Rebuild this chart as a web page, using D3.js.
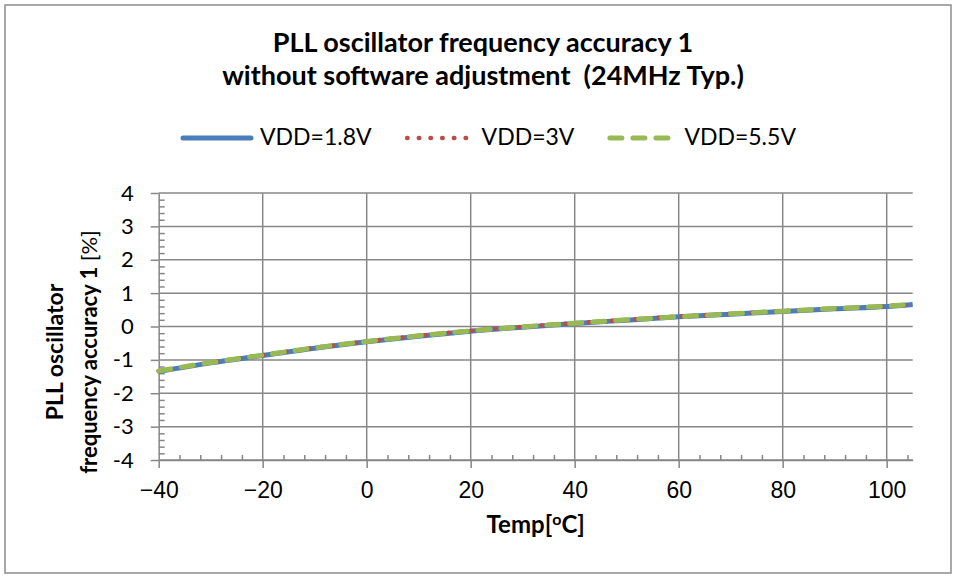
<!DOCTYPE html>
<html>
<head>
<meta charset="utf-8">
<script src="https://cdn.jsdelivr.net/npm/d3@7"></script>
<style>
  body { margin: 0; background: #fff; }
  svg { display: block; }
</style>
</head>
<body>
<svg id="chart"></svg>
<script>
// temperatures
const temps = [-40, -30, -20, -10, 0, 10, 20, 30, 40, 50, 60, 70, 80, 90, 100, 105];
// frequency accuracy [%] per supply voltage
const vdd18 = [-1.35, -1.09, -0.87, -0.65, -0.46, -0.29, -0.14, -0.02, 0.09, 0.19, 0.29, 0.37, 0.45, 0.53, 0.60, 0.66];
const vdd3  = [-1.34, -1.08, -0.86, -0.64, -0.45, -0.28, -0.13, -0.01, 0.10, 0.20, 0.30, 0.38, 0.46, 0.53, 0.61, 0.66];
const vdd55 = [-1.33, -1.08, -0.86, -0.64, -0.45, -0.28, -0.13, -0.01, 0.10, 0.20, 0.29, 0.38, 0.46, 0.54, 0.61, 0.67];
const seriesNames = ["VDD=1.8V", "VDD=3V", "VDD=5.5V"];
const xTicks = [-40, -20, 0, 20, 40, 60, 80, 100];
const yTicks = [-4, -3, -2, -1, 0, 1, 2, 3, 4];

const width = 955, height = 576;
const gridColor = "#878787";
const calibri = "Lato, 'Open Sans', sans-serif";

const svg = d3.select("#chart").attr("width", width).attr("height", height);

// chart frame
svg.append("rect")
    .attr("x", 5).attr("y", 5)
    .attr("width", 946).attr("height", 568)
    .attr("fill", "#fff")
    .attr("stroke", "#8c8c8c")
    .attr("stroke-width", 1.5);

const x = d3.scaleLinear().domain([-40, 105]).range([158.7, 912.7]);
const y = d3.scaleLinear().domain([-4, 4]).range([460, 193]);

// gridlines
const grid = svg.append("g").attr("class", "grid")
    .attr("stroke", gridColor).attr("stroke-width", 1.5);
grid.selectAll("line.h")
    .data(yTicks)
    .join("line")
    .attr("class", "h")
    .attr("x1", x(-40)).attr("x2", x(105))
    .attr("y1", d => y(d)).attr("y2", d => y(d));
grid.selectAll("line.v")
    .data(xTicks.filter(d => d !== -40))
    .join("line")
    .attr("class", "v")
    .attr("x1", d => x(d)).attr("x2", d => x(d))
    .attr("y1", y(-4)).attr("y2", y(4));

// minor ticks, inside the plot
const yMinor = d3.range(-40, 41, 2).map(d => d / 10).filter(d => !Number.isInteger(d));
const xMinor = d3.range(-40, 105, 4).filter(d => d % 20 !== 0);

svg.append("g")
    .attr("transform", `translate(${x(-40)},0)`)
    .call(d3.axisRight(y).tickValues(yMinor).tickSize(6).tickSizeOuter(0).tickFormat(""))
    .call(g => g.select(".domain").remove());

svg.append("g")
    .attr("transform", `translate(0,${y(-4)})`)
    .call(d3.axisTop(x).tickValues(xMinor).tickSize(5).tickSizeOuter(0).tickFormat(""))
    .call(g => g.select(".domain").remove());

// main axes
const yAxis = svg.append("g")
    .attr("transform", `translate(${x(-40)},0)`)
    .call(d3.axisLeft(y).tickValues(yTicks).tickSize(8).tickSizeOuter(0).tickPadding(17)
        .tickFormat(d => String(d)));
yAxis.selectAll("text")
    .attr("font-family", calibri)
    .attr("font-size", 22)
    .attr("fill", "#000");

const xAxis = svg.append("g")
    .attr("transform", `translate(0,${y(-4)})`)
    .call(d3.axisBottom(x).tickValues(xTicks).tickSize(8).tickSizeOuter(0).tickPadding(14));
xAxis.selectAll("text")
    .attr("font-family", "'Liberation Sans', Arial, sans-serif")
    .attr("font-size", 23)
    .attr("fill", "#000");

svg.selectAll(".tick line, .domain")
    .attr("stroke", gridColor)
    .attr("stroke-width", 1.5);

// series
const styles = [
    { color: "#4a7ebb", width: 5, dash: null, cap: "butt" },
    { color: "#be4b48", width: 4.5, dash: "0.5,11.2", cap: "round" },
    { color: "#98b954", width: 5, dash: "12,11", cap: "round" }
];
const series = [vdd18, vdd3, vdd55].map((vals, i) => ({
    name: seriesNames[i],
    style: styles[i],
    points: temps.map((t, j) => ({ t: t, v: vals[j] }))
}));

const line = d3.line()
    .x(d => x(d.t))
    .y(d => y(d.v))
    .curve(d3.curveMonotoneX);

svg.append("g").attr("class", "series")
    .selectAll("path")
    .data(series)
    .join("path")
    .attr("d", d => line(d.points))
    .attr("fill", "none")
    .attr("stroke", d => d.style.color)
    .attr("stroke-width", d => d.style.width)
    .attr("stroke-dasharray", d => d.style.dash)
    .attr("stroke-linecap", d => d.style.cap);

// title
const title = svg.append("text")
    .attr("font-family", calibri)
    .attr("font-weight", "bold")
    .attr("font-size", 27)
    .attr("text-anchor", "middle")
    .attr("fill", "#000");
title.append("tspan").attr("x", 483).attr("y", 52).text("PLL oscillator frequency accuracy 1");
title.append("tspan").attr("x", 483).attr("y", 85)
    .text("without software adjustment\u00a0\u00a0(24MHz Typ.)");

// legend
const legend = svg.append("g").attr("class", "legend");
let lx = 183;
series.forEach(s => {
    legend.append("line")
        .attr("x1", lx + (s.style.cap === "round" ? 2.5 : 0))
        .attr("x2", lx + 68)
        .attr("y1", 138).attr("y2", 138)
        .attr("stroke", s.style.color)
        .attr("stroke-width", s.style.width)
        .attr("stroke-dasharray", s.style.dash)
        .attr("stroke-linecap", s.style.cap === "butt" ? "round" : s.style.cap);
    const t = legend.append("text")
        .attr("x", lx + 77)
        .attr("y", 145)
        .attr("font-family", calibri)
        .attr("font-size", 23)
        .attr("fill", "#000")
        .text(s.name);
    lx += 77 + t.node().getComputedTextLength() + 33;
});

// axis titles
const xt = svg.append("text")
    .attr("x", (x(-40) + x(105)) / 2)
    .attr("y", 533)
    .attr("text-anchor", "middle")
    .attr("font-family", calibri)
    .attr("font-weight", "bold")
    .attr("font-size", 24)
    .attr("fill", "#000");
xt.append("tspan").text("Temp[");
xt.append("tspan").attr("font-size", 16).attr("dy", -8).text("o");
xt.append("tspan").attr("dy", 8).text("C]");

const yt = svg.append("text")
    .attr("transform", "translate(0,352) rotate(-90)")
    .attr("text-anchor", "middle")
    .attr("font-family", calibri)
    .attr("fill", "#000");
yt.append("tspan").attr("x", 0).attr("y", 63).attr("font-size", 23)
    .attr("font-weight", "bold").text("PLL oscillator");
yt.append("tspan").attr("x", 0).attr("y", 97).attr("font-size", 22)
    .attr("font-weight", "bold").text("frequency accuracy 1 ");
yt.append("tspan").attr("font-size", 22).text("[%]");
</script>
</body>
</html>
